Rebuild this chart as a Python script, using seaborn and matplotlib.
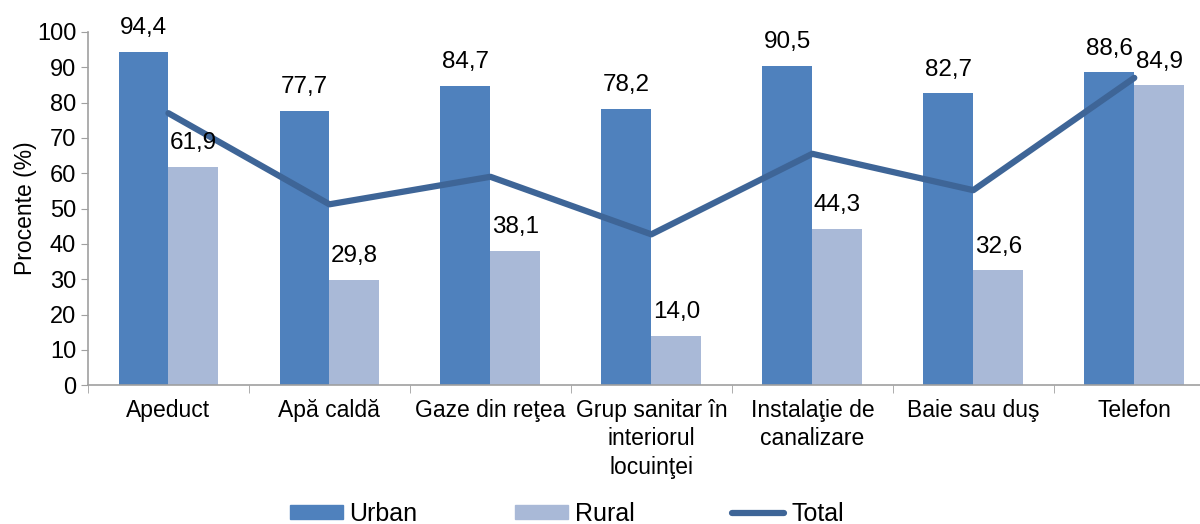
import numpy as np
import pandas as pd
import matplotlib
matplotlib.use("Agg")
import matplotlib.pyplot as plt
import seaborn as sns
from matplotlib.lines import Line2D
from matplotlib.patches import Patch

# Data
categories = ["Apeduct", "Apă caldă", "Gaze din reţea",
              "Grup sanitar în\ninteriorul\nlocuinţei",
              "Instalaţie de\ncanalizare", "Baie sau duş", "Telefon"]
urban = [94.4, 77.7, 84.7, 78.2, 90.5, 82.7, 88.6]
rural = [61.9, 29.8, 38.1, 14.0, 44.3, 32.6, 84.9]
total = [77.0, 51.2, 59.0, 42.7, 65.5, 55.2, 87.0]

urban_color = "#4F81BD"
rural_color = "#A9B9D7"
total_color = "#3E6597"
axis_color = "#A0A0A0"

sns.set_style("white")
plt.rcParams["font.family"] = ["Liberation Sans", "DejaVu Sans"]
plt.rcParams["text.color"] = "black"
plt.rcParams["axes.labelcolor"] = "black"

df = pd.DataFrame({
    "Categorie": categories * 2,
    "Procent": urban + rural,
    "Zona": ["Urban"] * len(categories) + ["Rural"] * len(categories),
})

fig = plt.figure(figsize=(12, 5.24), dpi=100)
# plot area runs a little past the right edge of the picture, as in the original
ax = fig.add_axes([0.0733, 0.265, 0.939, 0.674])

sns.barplot(data=df, x="Categorie", y="Procent", hue="Zona",
            palette=[urban_color, rural_color], width=0.62, gap=0,
            saturation=1, linewidth=0, ax=ax, legend=False)

for cont in ax.containers:
    vals = [b.get_height() for b in cont]
    ax.bar_label(cont, labels=[f"{v:.1f}".replace(".", ",") for v in vals],
                 padding=9, fontsize=17.5)

sns.lineplot(x=np.arange(len(categories)), y=total, color=total_color,
             linewidth=4.5, ax=ax, legend=False)

ax.set_xlim(-0.5, len(categories) - 0.5)
ax.set_ylim(0, 100)
ax.set_yticks(range(0, 101, 10))
ax.tick_params(axis="y", labelsize=17, length=5, color=axis_color,
               labelcolor="black", left=True)
ax.set_xticks(range(len(categories)))
ax.set_xticklabels(categories, fontsize=16.5, linespacing=1.3)
ax.tick_params(axis="x", which="major", length=0, pad=10, labelcolor="black")
ax.set_xticks(np.arange(-0.5, len(categories), 1.0), minor=True)
ax.tick_params(axis="x", which="minor", length=6, color=axis_color, bottom=True)
ax.set_xlabel("")
ax.set_ylabel("Procente (%)", fontsize=16.5, labelpad=0)

for side in ["top", "right"]:
    ax.spines[side].set_visible(False)
for side in ["left", "bottom"]:
    ax.spines[side].set_color(axis_color)
    ax.spines[side].set_linewidth(1.2)

handles = [Patch(color=urban_color, label="Urban"),
           Patch(color=rural_color, label="Rural"),
           Line2D([0], [0], color=total_color, linewidth=4.5,
                  solid_capstyle="round", label="Total")]
fig.legend(handles=handles, loc="center", ncol=3, frameon=False,
           fontsize=18, bbox_to_anchor=(0.4725, 0.019), handlelength=2.1,
           handleheight=0.45, columnspacing=3.9, handletextpad=0.28,
           borderpad=0, borderaxespad=0)

fig.savefig("out.png", dpi=100)
